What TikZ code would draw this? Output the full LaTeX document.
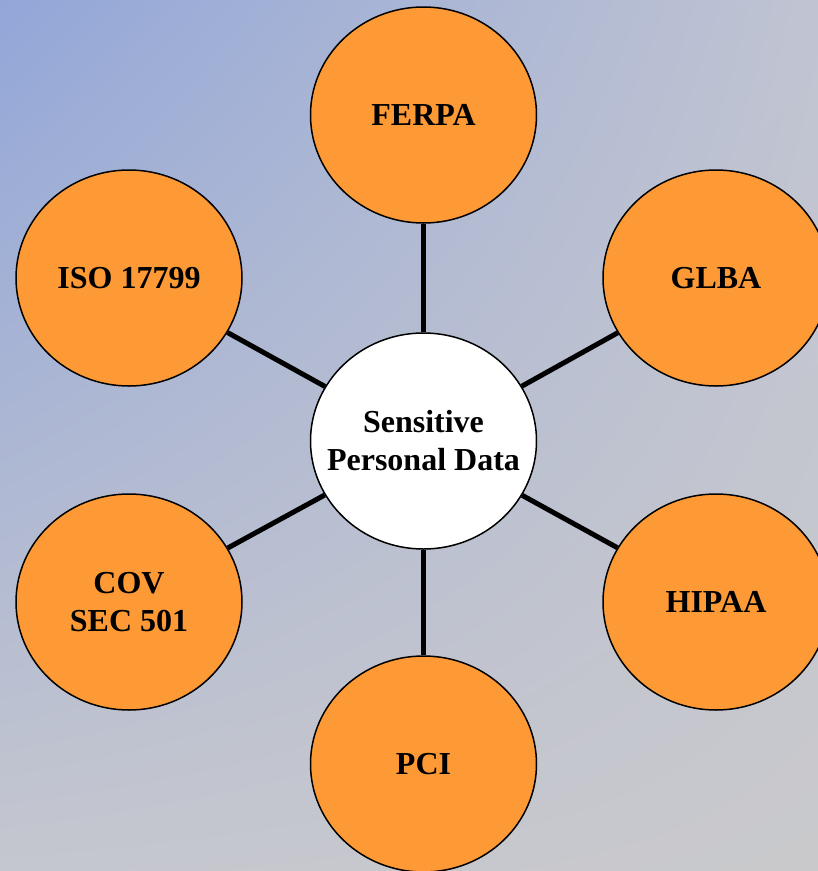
\documentclass[tikz,border=0pt]{standalone}
\usepackage{fontspec}
\setmainfont{Liberation Serif}
\usetikzlibrary{shapes.geometric,shadings}

\definecolor{bgblue}{RGB}{146,166,216}
\definecolor{bggrayA}{RGB}{192,196,210}
\definecolor{bggrayB}{RGB}{197,199,207}
\definecolor{bggrayC}{RGB}{201,201,204}
\definecolor{lawfill}{RGB}{254,154,53}

\tikzset{
  law/.style={ellipse, draw, line width=1.5pt, fill=lawfill,
    minimum width=226pt, minimum height=216pt, inner sep=0pt,
    align=center, font=\fontsize{32}{38}\selectfont\bfseries},
  hub/.style={law, fill=white},
  hubtext/.style={align=center, inner sep=0pt, font=\fontsize{32}{38}\selectfont\bfseries},
  link/.style={line width=5pt}
}

\begin{document}
\begin{tikzpicture}[x=1pt,y=-1pt]
%背景
\shade[upper left=bgblue, upper right=bggrayA, lower left=bggrayB, lower right=bggrayC]
  (0,0) rectangle (818,871);
\useasboundingbox (0,0) rectangle (818,871);

%中心
\node[hub, label={[hubtext]center:Sensitive\\Personal Data}] (data) at (423.5,441) {};

%法令
\node[law] (ferpa) at (423.5,115) {FERPA};
\node[law] (glba) at (716,278) {GLBA};
\node[law] (hipaa) at (716,602) {HIPAA};
\node[law] (pci) at (423.5,764) {PCI};
\node[law] (cov) at (129,602) {COV\\SEC 501};
\node[law] (iso) at (129,278) {ISO 17799};

%線
\draw[link] (data) -- (ferpa);
\draw[link] (data) -- (glba);
\draw[link] (data) -- (hipaa);
\draw[link] (data) -- (pci);
\draw[link] (data) -- (cov);
\draw[link] (data) -- (iso);
\end{tikzpicture}
\end{document}
